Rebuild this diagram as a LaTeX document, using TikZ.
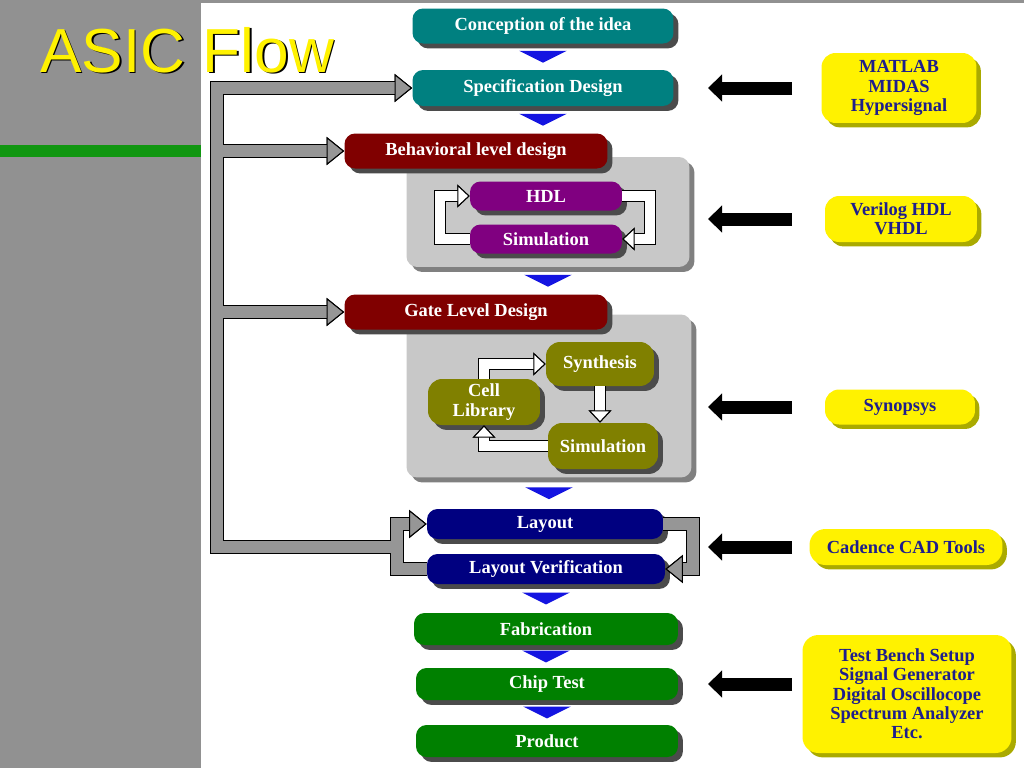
\documentclass[tikz,border=0pt]{standalone}
\usepackage{fontspec}
\setmainfont{Liberation Serif}
\newfontfamily\titlefont{Liberation Sans}
\usetikzlibrary{arrows.meta,shadows,decorations.markings}
\definecolor{bggray}{RGB}{145,145,145}
\definecolor{bargreen}{RGB}{16,150,16}
\definecolor{stageteal}{RGB}{0,128,128}
\definecolor{stagered}{RGB}{128,0,0}
\definecolor{stagepurple}{RGB}{128,0,128}
\definecolor{stageolive}{RGB}{128,128,0}
\definecolor{stagenavy}{RGB}{0,0,128}
\definecolor{stagegreen}{RGB}{0,128,0}
\definecolor{shadowgray}{RGB}{75,75,75}
\definecolor{panelgray}{RGB}{200,200,200}
\definecolor{panelshadow}{RGB}{128,128,128}
\definecolor{arrowgray}{RGB}{150,150,150}
\definecolor{tooltext}{RGB}{30,30,140}
\definecolor{toolshadow}{RGB}{170,170,0}
\definecolor{triblue}{RGB}{20,20,225}
\begin{document}
\begin{tikzpicture}[x=0.02cm, y=-0.02cm,
  stage/.style={fill=#1, rounded corners=6pt, text=white, inner sep=0pt, align=center,
    font=\bfseries\fontsize{10.5}{11}\selectfont,
    drop shadow={shadow xshift=2.8pt, shadow yshift=-2.8pt, fill=shadowgray, opacity=1}},
  tool/.style={fill=yellow, rounded corners=#1, text=tooltext, inner sep=0pt, align=center,
    font=\bfseries\fontsize{10.5}{11}\selectfont,
    drop shadow={shadow xshift=2.5pt, shadow yshift=-2.5pt, fill=toolshadow, opacity=1}},
  panel/.style={fill=panelgray, rounded corners=6pt, inner sep=0pt,
    drop shadow={shadow xshift=2.8pt, shadow yshift=-2.8pt, fill=panelshadow, opacity=1}},
  flowto/.style={postaction={decorate, decoration={markings, mark=at position .5 with
    {\fill[triblue] (-3.4pt,13.6pt) -- (3.4pt,0pt) -- (-3.4pt,-13.6pt) -- cycle;}}}},
  grayedge/.style={draw=black, line width=8pt, line join=miter,
    -{Triangle[width=16pt,length=10pt,line width=.6pt,fill=black]}},
  grayfill/.style={draw=arrowgray, line width=6.4pt, line join=miter,
    -{Triangle[width=16pt,length=10pt,line width=.6pt,color=black,fill=arrowgray]}},
  whiteedge/.style={draw=black, line width=7pt, line join=miter,
    -{Triangle[width=13pt,length=7pt,line width=.6pt,fill=black]}},
  whitefill/.style={draw=white, line width=5.6pt, line join=miter,
    -{Triangle[width=13pt,length=7pt,line width=.6pt,color=black,fill=white]}},
  toolarrow/.style={draw=black, line width=7.4pt, -{Triangle[width=15pt,length=8pt]}}]
\useasboundingbox (0,0) rectangle (1024,768);
\fill[bggray] (0,0) rectangle (1024,768);
\fill[white] (201,3) rectangle (1024,768);
\fill[bargreen] (0,145) rectangle (201,157);
\node[text=black, font=\titlefont\fontsize{35.4}{40}\selectfont, anchor=base west, inner sep=0pt] (ttl0) at (41.5,73.5) {ASIC Flow};
\node[text=yellow, font=\titlefont\fontsize{35.4}{40}\selectfont, anchor=base west, inner sep=0pt] (ttl1) at (40,72) {ASIC Flow};
\node[panel, minimum width=5.66cm, minimum height=2.2cm] (pn0) at (548,212) {};
\node[panel, minimum width=5.7cm, minimum height=3.26cm] (pn1) at (549,396) {};
\node[stage=stageteal, minimum width=5.22cm, minimum height=0.7cm] (st0) at (543,26) {Conception of the idea};
\node[stage=stageteal, minimum width=5.22cm, minimum height=0.72cm] (st1) at (543,88) {Specification Design};
\node[stage=stagered, minimum width=5.26cm, minimum height=0.7cm] (st2) at (476,151) {Behavioral level design};
\node[stage=stagepurple, minimum width=3.04cm, minimum height=0.58cm] (st3) at (546,196) {HDL};
\node[stage=stagepurple, minimum width=3.04cm, minimum height=0.58cm] (st4) at (546,239) {Simulation};
\node[stage=stagered, minimum width=5.26cm, minimum height=0.7cm] (st5) at (476,312) {Gate Level Design};
\node[stage=stageolive, rounded corners=8pt, minimum width=2.16cm, minimum height=0.88cm] (st6) at (600,364) {Synthesis};
\node[stage=stageolive, rounded corners=8pt, minimum width=2.24cm, minimum height=0.92cm] (st7) at (484,402) {Cell\\Library};
\node[stage=stageolive, rounded corners=8pt, minimum width=2.2cm, minimum height=0.92cm] (st8) at (603,446) {Simulation};
\node[stage=stagenavy, minimum width=4.72cm, minimum height=0.6cm] (st9) at (545,524) {Layout};
\node[stage=stagenavy, minimum width=4.76cm, minimum height=0.6cm] (st10) at (546,569) {Layout Verification};
\node[stage=stagegreen, minimum width=5.28cm, minimum height=0.64cm] (st11) at (546,629) {Fabrication};
\node[stage=stagegreen, minimum width=5.24cm, minimum height=0.64cm] (st12) at (547,684) {Chip Test};
\node[stage=stagegreen, minimum width=5.24cm, minimum height=0.64cm] (st13) at (547,741) {Product};
\node[tool=8pt, minimum width=3.1cm, minimum height=1.4cm] (tl0) at (899,88) {MATLAB\\MIDAS\\Hypersignal};
\node[tool=8pt, minimum width=3.04cm, minimum height=0.92cm] (tl1) at (901,219) {Verilog HDL\\VHDL};
\node[tool=8pt, minimum width=3.0cm, minimum height=0.7cm] (tl2) at (900,407) {Synopsys};
\node[tool=9pt, minimum width=3.86cm, minimum height=0.72cm] (tl3) at (906,547) {Cadence CAD Tools};
\node[tool=9pt, minimum width=4.18cm, minimum height=2.36cm] (tl4) at (907,694) {Test Bench Setup\\Signal Generator\\Digital Oscillocope\\Spectrum Analyzer\\Etc.};
\coordinate (c0) at (217,547);
\coordinate (c1) at (397,0);
\coordinate (c2) at (693,0);
\coordinate (c3) at (440,0);
\coordinate (c4) at (650,0);
\coordinate (c5) at (792,0);
\coordinate (c6) at (708,0);
\path[flowto] (st0.south) -- (st0.south |- st1.north);
\path[flowto] (st1.south) -- (st1.south |- st2.north);
\path[flowto] (pn0.south) -- (pn0.south |- st5.north);
\path[flowto] (pn1.south) -- (pn1.south |- st9.north);
\path[flowto] (st10.south) -- (st10.south |- st11.north);
\path[flowto] (st11.south) -- (st11.south |- st12.north);
\path[flowto] (st12.south) -- (st12.south |- st13.north);
\foreach \p in {edge,fill}{
  \draw[gray\p] (c0 -| c1) -- (c0) |- (st1.west);
  \draw[gray\p] (c0 |- st2.west) -- (st2.west);
  \draw[gray\p] (c0 |- st5.west) -- (st5.west);
  \draw[gray\p] (st10.west) -- (st10.west -| c1) |- (st9.west);
  \draw[gray\p] (st9.east) -- (st9.east -| c2) |- (st10.east);
  \draw[white\p] (st4.west) -- (st4.west -| c3) |- (st3.west);
  \draw[white\p] (st3.east) -- (st3.east -| c4) |- (st4.east);
  \draw[white\p] (st7.north) |- (st6.west);
  \draw[white\p] (st6.south) -- (st6.south |- st8.north);
  \draw[white\p] (st8.west) -| (st7.south);
}
\foreach \t in {tl0,tl1,tl2,tl3,st12}
  \draw[toolarrow] (\t.west -| c5) -- (\t.west -| c6);
\end{tikzpicture}
\end{document}
